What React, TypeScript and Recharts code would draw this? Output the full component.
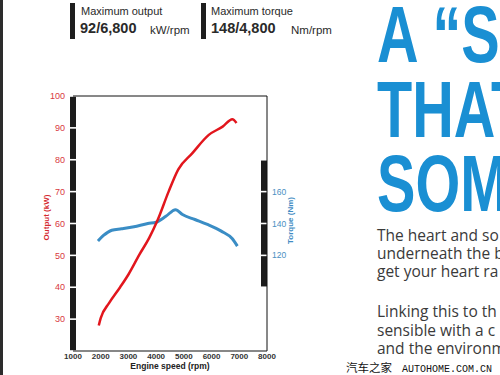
import { Line, LineChart, ReferenceLine, XAxis, YAxis } from 'recharts';

const outputRpm = [1930, 2000, 2300, 2700, 3000, 3400, 3750, 4050, 4450, 4800, 5300, 5900, 6400, 6750, 6900];
const outputKw = [28, 30.3, 35, 40, 44, 50.3, 55.5, 61, 70, 77, 82, 87.8, 90.4, 92.7, 91.5];
const torqueRpm = [1900, 2100, 2400, 2750, 3200, 3700, 4000, 4350, 4700, 4950, 5400, 5850, 6350, 6750, 6930];
const torqueNm = [129, 132.5, 135.8, 136.7, 138, 140, 140.8, 144.5, 148.7, 145.6, 142.5, 139.4, 135.2, 130.4, 125.8];

const rpmTicks = [1000, 2000, 3000, 4000, 5000, 6000, 7000, 8000];
const outputTicks = [30, 40, 50, 60, 70, 80, 90, 100];
const torqueTicks = [120, 140, 160];
const outputBarSteps = [20, 30, 40, 50, 60, 70, 80, 90, 100];
const torqueBarSteps = [100, 120, 140, 160, 180];

const headline = ['A \u201cS', 'THAT', 'SOM'];
const bodyLines = ['The heart and so', 'underneath the b', 'get your heart ra'];
const bodyLines2 = ['Linking this to th', 'sensible with a c', 'and the environm'];

const RED = '#e2161d';
const BLUE = '#3a8dc5';
const HEAD_BLUE = '#1a8fd3';

const outputData = outputRpm.map((rpm, i) => ({ rpm, kw: outputKw[i] }));
const torqueData = torqueRpm.map((rpm, i) => ({ rpm, nm: torqueNm[i] }));

// one piece of the thick black axis bar, leaving a thin white notch at each tick
const barPiece = (dx: number) => (p: any) => (
  <rect
    x={p.x1 + dx}
    y={Math.min(p.y1, p.y2) + 0.8}
    width={6}
    height={Math.max(Math.abs(p.y2 - p.y1) - 1.6, 0)}
    fill="#1c1c1c"
  />
);

export default function App() {
  const sans = 'Liberation Sans, Arial, sans-serif';
  return (
    <div style={{ position: 'fixed', left: 0, top: 0, width: 500, height: 375, background: '#fff', overflow: 'hidden' }}>
      <div style={{ position: 'absolute', left: 0, top: 0 }}>
        <LineChart width={318} height={375} margin={{ top: 96, right: 5, bottom: 0, left: 20 }}>
          <XAxis
            dataKey="rpm"
            type="number"
            domain={[1000, 8000]}
            ticks={rpmTicks}
            interval={0}
            height={24}
            tickSize={0}
            tickMargin={2}
            tickLine={false}
            axisLine={{ stroke: '#111', strokeWidth: 1.2 }}
            tick={{ fill: '#333', fontSize: 8, fontFamily: sans, fontWeight: 600 }}
            label={{ value: 'Engine speed (rpm)', position: 'insideBottom', offset: 6, fill: '#222', fontSize: 8.5, fontWeight: 700, fontFamily: sans }}
          />
          <YAxis
            yAxisId="left"
            type="number"
            domain={[20, 100]}
            ticks={outputTicks}
            interval={0}
            width={53}
            tickSize={0}
            tickMargin={8}
            tickLine={false}
            axisLine={false}
            tick={{ fill: '#d8383e', fontSize: 9, fontFamily: sans }}
            label={{ value: 'Output (kW)', angle: -90, position: 'center', dy: -6, fill: '#d42a30', fontSize: 8, fontWeight: 700, fontFamily: sans }}
          />
          <YAxis
            yAxisId="right"
            orientation="right"
            type="number"
            domain={[60, 220]}
            ticks={torqueTicks}
            interval={0}
            width={46}
            tickSize={0}
            tickMargin={5}
            tickLine={false}
            axisLine={{ stroke: '#111', strokeWidth: 1 }}
            tick={{ fill: '#4a8fc2', fontSize: 8.5, fontFamily: sans }}
            label={{ value: 'Torque (Nm)', angle: -90, position: 'center', dy: -3, fill: '#3f8cc3', fontSize: 8, fontWeight: 700, fontFamily: sans }}
          />
          <ReferenceLine yAxisId="left" y={100} stroke="#111" strokeWidth={1} />
          {outputBarSteps.slice(0, -1).map((v, i) => (
            <ReferenceLine
              key={'l' + v}
              yAxisId="left"
              segment={[{ x: 1000, y: v }, { x: 1000, y: outputBarSteps[i + 1] }]}
              shape={barPiece(-3)}
            />
          ))}
          {torqueBarSteps.slice(0, -1).map((v, i) => (
            <ReferenceLine
              key={'r' + v}
              yAxisId="right"
              segment={[{ x: 8000, y: v }, { x: 8000, y: torqueBarSteps[i + 1] }]}
              shape={barPiece(-6)}
            />
          ))}
          <Line
            yAxisId="right"
            data={torqueData}
            dataKey="nm"
            type="monotone"
            stroke={BLUE}
            strokeWidth={3}
            dot={false}
            isAnimationActive={false}
          />
          <Line
            yAxisId="left"
            data={outputData}
            dataKey="kw"
            type="monotone"
            stroke={RED}
            strokeWidth={2.5}
            dot={false}
            isAnimationActive={false}
          />
        </LineChart>
      </div>
      <svg width={500} height={375} style={{ position: 'absolute', left: 0, top: 0, pointerEvents: 'none' }}>
        <rect x={0} y={0} width={3} height={375} fill="#2c2c2c" />
        <rect x={70} y={3} width={5} height={36} fill="#1e1e1e" />
        <rect x={201} y={3} width={5} height={36} fill="#1e1e1e" />
        <g fontFamily={sans} fill="#2a2a2a">
          <text x={81} y={15} fontSize={11}>Maximum output</text>
          <text x={80} y={33} fontSize={14.5} fontWeight={700}>92/6,800</text>
          <text x={150} y={34} fontSize={11.5}>kW/rpm</text>
          <text x={211} y={15} fontSize={11}>Maximum torque</text>
          <text x={211} y={33} fontSize={14.5} fontWeight={700}>148/4,800</text>
          <text x={291} y={34} fontSize={11.5}>Nm/rpm</text>
        </g>
        <g fontFamily={sans} fontWeight={700} fontSize={80} fill={HEAD_BLUE}>
          {headline.map((t, i) => (
            <text key={t} transform={`translate(377,${62 + i * 74.5}) scale(0.72,1)`}>{t}</text>
          ))}
        </g>
        <g fontFamily="Open Sans, sans-serif" fontSize={15.5} fill="#3a3a3a">
          {bodyLines.map((t, i) => (
            <text key={t} x={377} y={241 + i * 18}>{t}</text>
          ))}
          {bodyLines2.map((t, i) => (
            <text key={t} x={377} y={317 + i * 18.5}>{t}</text>
          ))}
        </g>
        <text x={346} y={372} fontSize={11.5} fontFamily="Noto Sans CJK SC" fill="#111">汽车之家</text>
        <text x={402} y={372} fontSize={10} fontFamily="Liberation Mono, monospace" fill="#111">AUTOHOME.COM.CN</text>
      </svg>
    </div>
  );
}
